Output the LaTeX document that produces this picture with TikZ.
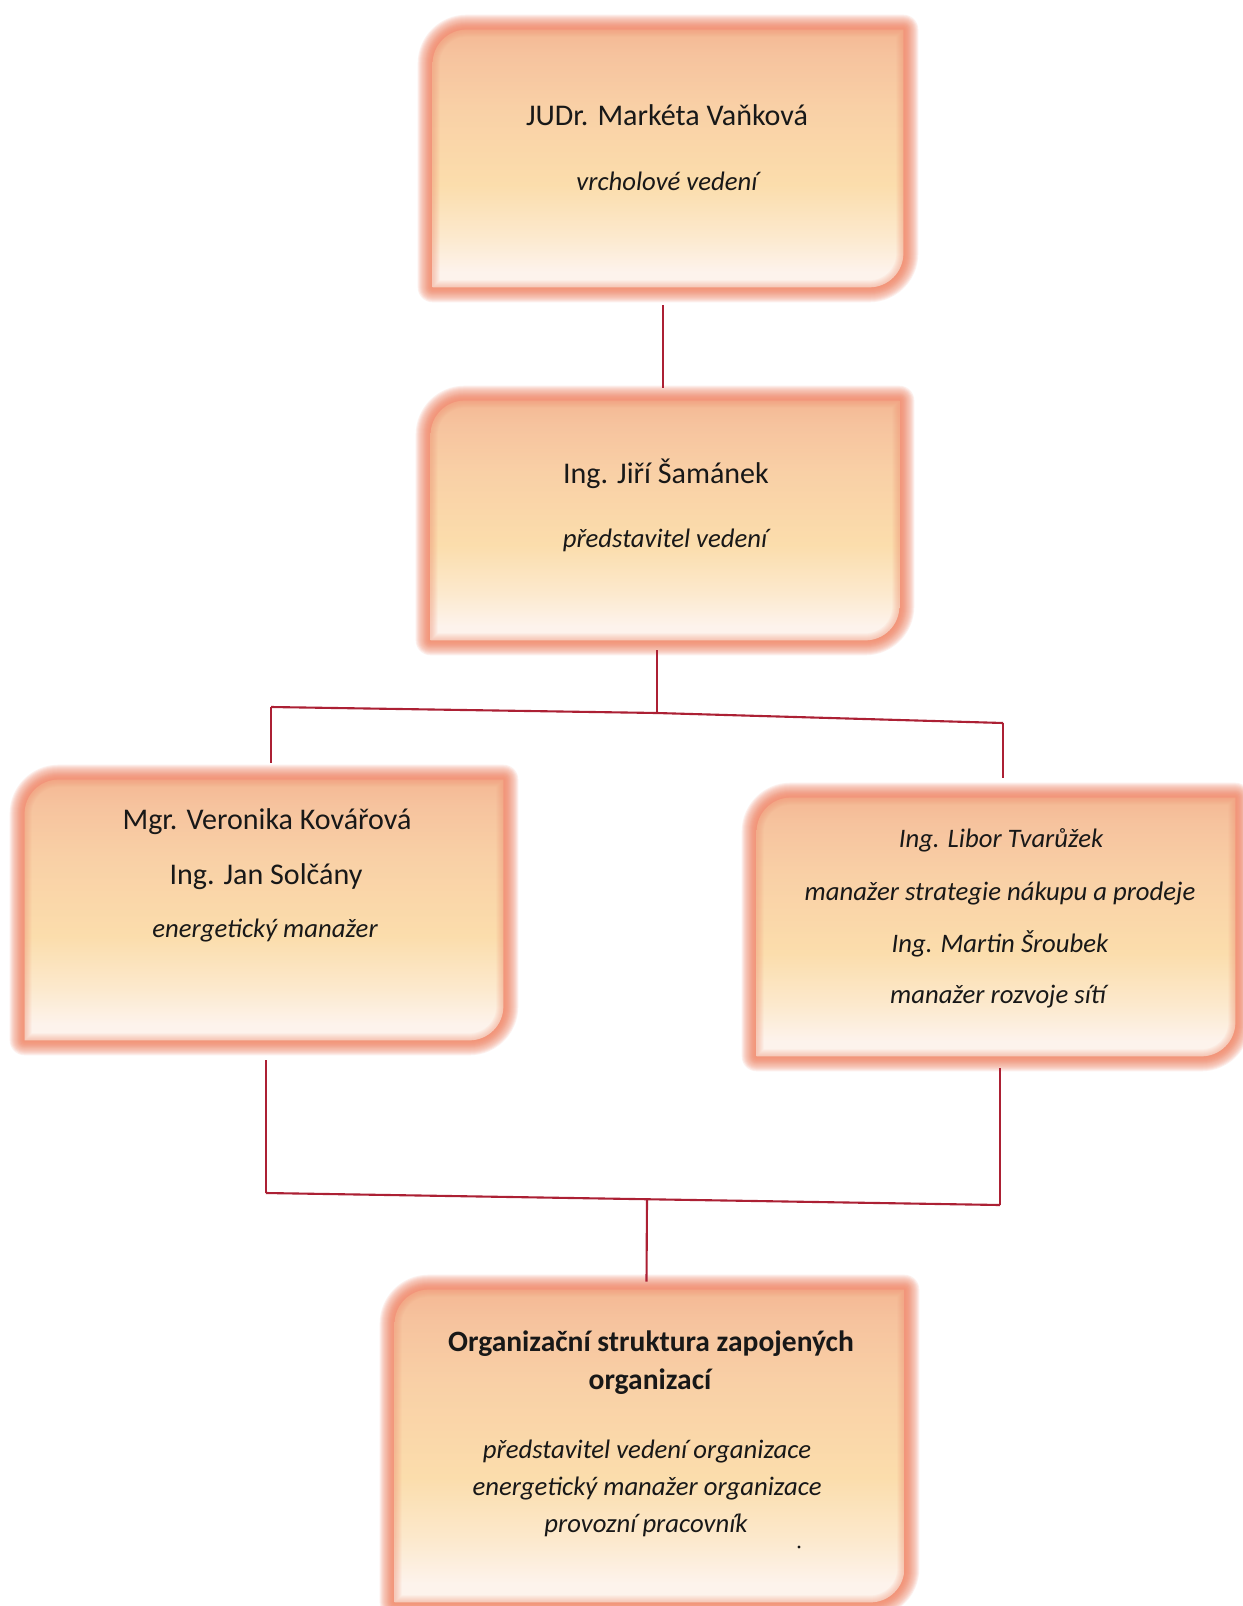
\documentclass[tikz,border=0pt]{standalone}
\usepackage{fontspec}
\setmainfont{Carlito}
\usetikzlibrary{calc,fit}
\definecolor{glow}{RGB}{242,146,116}
\definecolor{ftop}{RGB}{244,184,148}
\definecolor{fa}{RGB}{246,195,158}
\definecolor{fb}{RGB}{249,208,166}
\definecolor{fc}{RGB}{251,221,172}
\definecolor{fd}{RGB}{252,233,205}
\definecolor{fbot}{RGB}{253,243,236}
\definecolor{conncol}{RGB}{172,32,52}
\definecolor{ink}{RGB}{24,24,24}
\pgfdeclareverticalshading{boxshade}{100bp}{color(0bp)=(fbot); color(28bp)=(fbot); color(35bp)=(fd); color(45bp)=(fc); color(60bp)=(fb); color(70bp)=(fa); color(75bp)=(ftop); color(100bp)=(ftop)}
\newcommand\boxpath[2]{(#1.south west) -- ($(#1.north west)+(0,#2)$) .. controls ($(#1.north west)+(0,0.448*#2)$) and ($(#1.north west)+(0.448*#2,0)$) .. ($(#1.north west)+(#2,0)$) -- (#1.north east) -- ($(#1.south east)+(0,-#2)$) .. controls ($(#1.south east)+(0,-0.448*#2)$) and ($(#1.south east)+(-0.448*#2,0)$) .. ($(#1.south east)+(-#2,0)$) -- cycle}
\newcommand\obox[2]{%
  \foreach \d in {15,14,...,1}{%
    \draw[glow, line width=2*\d*0.567pt, opacity=0.13, line join=round] \boxpath{#1}{#2};}
  \shade[shading=boxshade] \boxpath{#1}{#2};
  \foreach \d in {7,6,...,1}{%
    \draw[glow, line width=2*\d*0.567pt, opacity=0.07, line join=round] \boxpath{#1}{#2};}
}
\begin{document}
\begin{tikzpicture}[x=0.02cm,y=-0.02cm,
  boxn/.style={inner sep=0pt, draw=none},
  txt/.style={font=\fontsize{17.1}{20}\selectfont, text=ink, inner sep=0pt},
  itx/.style={font=\fontsize{15.2}{19}\selectfont\itshape, text=ink, inner sep=0pt},
  bfx/.style={font=\fontsize{16.8}{20}\selectfont\bfseries, text=ink, inner sep=0pt},
  conn/.style={draw=conncol, line width=1.2pt}]
\fill[white] (0,0) rectangle (1243,1606);
\useasboundingbox (0,0) rectangle (1243,1606);

% box frames
\node[boxn, fit={(433,30) (903,287)}] (b1) {};
\node[boxn, fit={(431,401) (899,640)}] (b2) {};
\node[boxn, fit={(25,780) (503,1040)}] (b3) {};
\node[boxn, fit={(757,798) (1235,1056)}] (b4) {};
\node[boxn, fit={(395,1290) (904,1602)}] (b5) {};
\obox{b1}{34}
\obox{b2}{34}
\obox{b3}{34}
\obox{b4}{34}
\obox{b5}{34}

% texts
\node[txt] (t1a) at (667,115) {JUDr. Markéta Vaňková};
\node[itx] (t1b) at (667,181) {vrcholové vedení};
\node[txt] (t2a) at (666,474) {Ing. Jiří Šamánek};
\node[itx] (t2b) at (665,540) {představitel vedení};
\node[txt] (t3a) at (267,822) {Mgr. Veronika Kovářová};
\node[txt] (t3b) at (266,877) {Ing. Jan Solčány};
\node[itx] (t3c) at (265,931) {energetický manažer};
\node[itx] (t4a) at (1001,840) {Ing. Libor Tvarůžek};
\node[itx] (t4b) at (1000,894) {manažer strategie nákupu a prodeje};
\node[itx] (t4c) at (1000,944) {Ing. Martin Šroubek};
\node[itx] (t4d) at (998,997) {manažer rozvoje sítí};
\node[bfx] (t5a) at (651,1344) {Organizační struktura zapojených};
\node[bfx] (t5b) at (650,1382) {organizací};
\node[itx] (t5c) at (647,1451) {představitel vedení organizace};
\node[itx] (t5d) at (647,1488) {energetický manažer organizace};
\node[itx] (t5e) at (646,1525) {provozní pracovník};
\fill[ink] (799,1547) circle (1.6);

% junctions
\coordinate (j2) at (657,713);
\coordinate (j2l) at (271,707);
\coordinate (j2r) at (1003,723);
\coordinate (j3l) at (266,1193);
\coordinate (j3r) at (1000,1205);
\coordinate (j3) at (647,1200);

% connectors
\draw[conn] ([shift={(-5,18)}]b1.south) -- ([shift={(-2,-13)}]b2.north);
\draw[conn] ([shift={(-8,10)}]b2.south) -- (j2);
\draw[conn] (j2l) -- (j2) -- (j2r);
\draw[conn] (j2l) -- ([shift={(7,-17)}]b3.north);
\draw[conn] (j2r) -- ([shift={(7,-20)}]b4.north);
\draw[conn] ([shift={(2,20)}]b3.south) -- (j3l);
\draw[conn] ([shift={(4,12)}]b4.south) -- (j3r);
\draw[conn] (j3l) -- (j3r);
\draw[conn] (j3) -- ([shift={(-3,-8)}]b5.north);
\end{tikzpicture}
\end{document}
